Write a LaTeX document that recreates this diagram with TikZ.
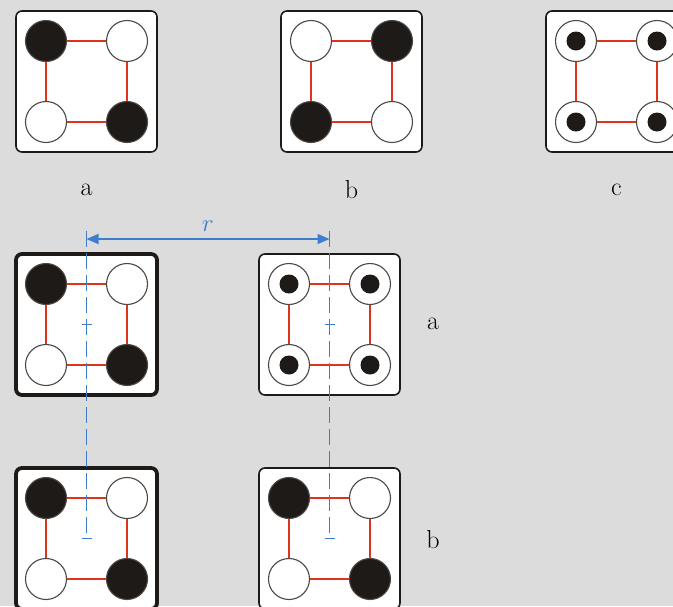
\documentclass[tikz,border=0pt]{standalone}
\usepackage{tikz}
\usetikzlibrary{calc, arrows.meta}

\definecolor{bggray}{RGB}{220,220,220}
\definecolor{linkred}{RGB}{222,52,30}
\definecolor{dimblue}{RGB}{62,124,204}
\definecolor{ink}{RGB}{30,26,24}

% one tile: name, centre, card style, then discs tl, tr, bl, br
\newcommand{\tile}[7]{%
  \node[#3] (#1) at #2 {};
  \node[#4] (#1-tl) at ($(#1)+(-40.5,-40.5)$) {};
  \node[#5] (#1-tr) at ($(#1)+(40.5,-40.5)$) {};
  \node[#6] (#1-bl) at ($(#1)+(-40.5,40.5)$) {};
  \node[#7] (#1-br) at ($(#1)+(40.5,40.5)$) {};
  \draw[link] (#1-tl) -- (#1-tr) -- (#1-br) -- (#1-bl) -- (#1-tl);
}

\begin{document}
\begin{tikzpicture}[x=1pt, y=-1pt,
  card/.style={draw=ink, fill=white, rounded corners=6pt, minimum size=141pt, line width=1.6pt},
  heavycard/.style={card, line width=3.8pt},
  blackdisc/.style={circle, draw=ink!80, line width=1.1pt, fill=ink, minimum size=41pt, inner sep=0pt},
  whitedisc/.style={blackdisc, fill=white},
  ringdisc/.style={whitedisc, path picture={\fill[ink] (path picture bounding box.center) circle (9.5pt);}},
  link/.style={draw=linkred, line width=2pt},
  centreline/.style={draw=dimblue, line width=1.8pt, dash pattern=on 16pt off 6pt},
  tick/.style={draw=dimblue, line width=1.8pt},
  dim/.style={{Triangle[length=12pt,width=10pt]}-{Triangle[length=12pt,width=10pt]}, draw=dimblue, line width=1.8pt},
  lbl/.style={font=\fontsize{26}{30}\selectfont, inner sep=0pt}
]
\fill[bggray] (0,0) rectangle (673,606);
\useasboundingbox (0,0) rectangle (673,606);
\clip (0,0) rectangle (673,606);

% top row
\tile{A}{(86.5,81.5)}{card}{blackdisc}{whitedisc}{whitedisc}{blackdisc}
\tile{B}{(351.5,81.5)}{card}{whitedisc}{blackdisc}{blackdisc}{whitedisc}
\tile{C}{(616.5,81.5)}{card}{ringdisc}{ringdisc}{ringdisc}{ringdisc}
\node[lbl] (lblA) at (86.5,190) {a};
\node[lbl] (lblB) at (351.5,190) {b};
\node[lbl] (lblC) at (616.5,190) {c};

% lower pairs
\tile{L1}{(86.5,324.5)}{heavycard}{blackdisc}{whitedisc}{whitedisc}{blackdisc}
\tile{R1}{(329.5,324.5)}{card}{ringdisc}{ringdisc}{ringdisc}{ringdisc}
\tile{L2}{(86.5,538.5)}{heavycard}{blackdisc}{whitedisc}{whitedisc}{blackdisc}
\tile{R2}{(329.5,538.5)}{card}{blackdisc}{whitedisc}{whitedisc}{blackdisc}
\node[lbl] (lblRa) at (433,324) {a};
\node[lbl] (lblRb) at (433,540) {b};

% centre lines and distance r
\coordinate (topL) at (86.5,231);
\coordinate (topR) at (329.5,231);
\coordinate (dimL) at (86.5,239);
\coordinate (dimR) at (329.5,239);
\draw[centreline] (topL) -- (L2.center);
\draw[centreline] (topR) -- (R2.center);
\foreach \t in {L1, L2, R1, R2}
  \draw[tick] ($(\t.center)+(-5,0)$) -- ($(\t.center)+(5,0)$);
\draw[dim] (dimL) -- node[lbl, above=7pt, text=dimblue] (lblR) {$r$} (dimR);
\end{tikzpicture}
\end{document}
